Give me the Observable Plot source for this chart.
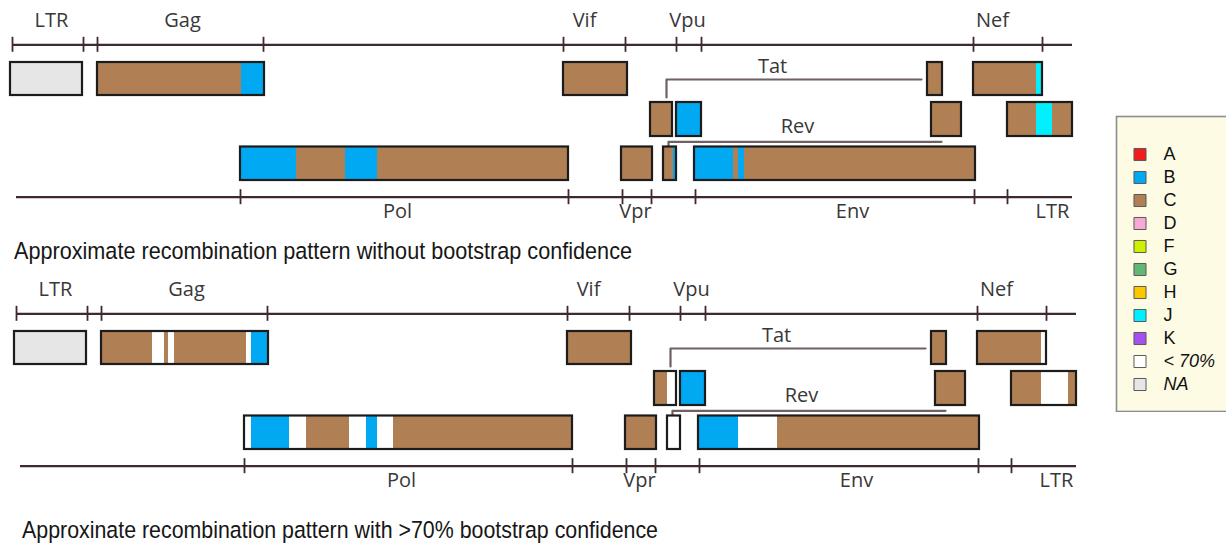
<!DOCTYPE html>
<html><head><meta charset="utf-8">
<script src="https://cdn.jsdelivr.net/npm/d3@7"></script>
<script src="https://cdn.jsdelivr.net/npm/@observablehq/plot@0.6"></script>
<style>
html,body{margin:0;padding:0;background:#fff;overflow:hidden}
#wrap{position:relative;width:1226px;height:549px;overflow:hidden;background:#fff}
.abs{position:absolute}
.abs svg{max-width:none !important}
.cap{position:absolute;font-family:"Liberation Sans Narrow","Arial Narrow","Liberation Sans",Arial,sans-serif;font-size:24.5px;line-height:24.5px;color:#161616;white-space:nowrap;transform-origin:0 0}
</style></head><body>
<div id="wrap">
 <div id="p1" class="abs" style="left:0;top:0;width:1222px"></div>
 <div id="cap1" class="cap" style="left:14px;top:239.3px"></div>
 <div id="p2" class="abs" style="left:4px;top:269px;width:1222px"></div>
 <div id="cap2" class="cap" style="left:22px;top:518.3px"></div>
 <div id="leg" class="abs" style="left:1115px;top:115px;width:125px"></div>
</div>
<script>
// ---------- data ----------
const subtypes = ["A","B","C","D","F","G","H","J","K","< 70%","NA"];
const subtypeColors = ["#ee1c1c","#00a9f2","#b07f53","#f7a9d6","#cdf000","#62b873","#fbc800","#00f0ff","#a550ef","#ffffff","#e6e6e6"];

const geneNames = ["5' LTR","Gag","Vif","Tat exon 2","Nef","Tat exon 1","Vpu","Rev exon 2","3' LTR","Pol","Vpr","Rev exon 1","Env"];
const geneStart = [10,97,563,927,973,650,676,931,1007,240,621,663,694];
const geneEnd   = [82,264,627,942,1042,672,701,961,1072,568,652,676,975];
const geneFrame = [1,1,1,1,1,2,2,2,2,3,3,3,3];

const topRulerSpan = [12,1072];
const topRulerTicks = [12,83,97,263,563,625,676,701,973,1042];
const bottomRulerSpan = [16,1072];
const bottomRulerTicks = [240,568,622,651,695,974,1007];

const topLabels = ["LTR","Gag","Vif","Vpu","Nef"];
const topLabelPos = [51,182,584,687,992];
const bottomLabels = ["Pol","Vpr","Env","LTR"];
const bottomLabelPos = [397,635,852,1052];

const spliceNames = ["Tat","Rev"];
const spliceFrom = [666,668];
const spliceTo = [921,941];
const spliceLabelPos = [772,797];

// [gene, start, end, subtype]
const segmentsNoBootstrap = [
  ["5' LTR",10,82,"NA"],
  ["Gag",97,241,"C"],["Gag",241,264,"B"],
  ["Vif",563,627,"C"],
  ["Tat exon 2",927,942,"C"],
  ["Nef",973,1036,"C"],["Nef",1036,1042,"J"],
  ["Tat exon 1",650,672,"C"],
  ["Vpu",676,701,"B"],
  ["Rev exon 2",931,961,"C"],
  ["3' LTR",1007,1036,"C"],["3' LTR",1036,1052,"J"],["3' LTR",1052,1072,"C"],
  ["Pol",240,296,"B"],["Pol",296,345,"C"],["Pol",345,377,"B"],["Pol",377,568,"C"],
  ["Vpr",621,652,"C"],
  ["Rev exon 1",663,673,"C"],["Rev exon 1",673,676,"B"],
  ["Env",694,733,"B"],["Env",733,738,"C"],["Env",738,744,"B"],["Env",744,975,"C"]
];
const segmentsBootstrap70 = [
  ["5' LTR",10,82,"NA"],
  ["Gag",97,148,"C"],["Gag",148,160,"< 70%"],["Gag",160,164,"C"],["Gag",164,170,"< 70%"],["Gag",170,242,"C"],["Gag",242,247,"< 70%"],["Gag",247,264,"B"],
  ["Vif",563,627,"C"],
  ["Tat exon 2",927,942,"C"],
  ["Nef",973,1037,"C"],["Nef",1037,1042,"< 70%"],
  ["Tat exon 1",650,663,"C"],["Tat exon 1",663,672,"< 70%"],
  ["Vpu",676,701,"B"],
  ["Rev exon 2",931,961,"C"],
  ["3' LTR",1007,1037,"C"],["3' LTR",1037,1064,"< 70%"],["3' LTR",1064,1072,"C"],
  ["Pol",240,247,"< 70%"],["Pol",247,285,"B"],["Pol",285,302,"< 70%"],["Pol",302,345,"C"],["Pol",345,362,"< 70%"],["Pol",362,373,"B"],["Pol",373,389,"< 70%"],["Pol",389,568,"C"],
  ["Vpr",621,652,"C"],
  ["Rev exon 1",663,676,"< 70%"],
  ["Env",694,734,"B"],["Env",734,773,"< 70%"],["Env",773,975,"C"]
];
const captions = [
  "Approximate recombination pattern without bootstrap confidence",
  "Approxinate recombination pattern with >70% bootstrap confidence"
];

// ---------- layout / style (not data) ----------
const L = {w:1222, h:232, labelTop:20.5, rulerTop:44.3, rows:{1:[62,95],2:[102,136],3:[146.5,180]},
  rulerBottom:196.7, labelBottom:211.5, tick:7.5, spliceY:{Tat:79,Rev:141.3}, spliceLabelY:{Tat:66.5,Rev:126.5},
  spliceBottom:{Tat:97,Rev:146.5}};
const ruleColor = "#3d2a2c", spliceColor = "#6f6062", boxStroke = "#1c1c1c";
const labelFont = "'Open Sans','Noto Sans',sans-serif";
const labelSize = 20;
const captionWidths = [618, 636];

const genes = geneNames.map((name,i)=>({name, start:geneStart[i], end:geneEnd[i], frame:geneFrame[i]}));
const frameOf = Object.fromEntries(genes.map(g=>[g.name,g.frame]));

function panel(segments){
  const segs = segments.map(([gene,start,end,type])=>({gene,start,end,type,frame:frameOf[gene]}));
  const splicePts = spliceNames.flatMap((n,i)=>[
    {n, x:spliceFrom[i], y:L.spliceBottom[n]},
    {n, x:spliceFrom[i], y:L.spliceY[n]},
    {n, x:spliceTo[i], y:L.spliceY[n]}]);
  const txt = {fontSize:labelSize, fontFamily:labelFont, fill:"#383838"};
  return Plot.plot({
    width:L.w, height:L.h, margin:0,
    x:{domain:[0,L.w], range:[0,L.w], axis:null},
    y:{domain:[0,L.h], range:[0,L.h], axis:null},
    color:{domain:subtypes, range:subtypeColors},
    style:{background:"transparent", overflow:"visible"},
    marks:[
      Plot.ruleY([L.rulerTop], {x1:topRulerSpan[0], x2:topRulerSpan[1], stroke:ruleColor, strokeWidth:2.3}),
      Plot.ruleX(topRulerTicks, {x:d=>d, y1:L.rulerTop-L.tick, y2:L.rulerTop+L.tick, stroke:ruleColor, strokeWidth:1.8}),
      Plot.ruleY([L.rulerBottom], {x1:bottomRulerSpan[0], x2:bottomRulerSpan[1], stroke:ruleColor, strokeWidth:2.3}),
      Plot.ruleX(bottomRulerTicks, {x:d=>d, y1:L.rulerBottom-L.tick, y2:L.rulerBottom+L.tick, stroke:ruleColor, strokeWidth:1.8}),
      Plot.text(topLabels, {x:(d,i)=>topLabelPos[i], y:L.labelTop, text:d=>d, ...txt}),
      Plot.text(bottomLabels, {x:(d,i)=>bottomLabelPos[i], y:L.labelBottom, text:d=>d, ...txt}),
      Plot.line(splicePts, {x:"x", y:"y", z:"n", stroke:spliceColor, strokeWidth:2.2, curve:"linear"}),
      Plot.text(spliceNames, {x:(d,i)=>spliceLabelPos[i], y:d=>L.spliceLabelY[d], text:d=>d, ...txt}),
      Plot.rect(segs, {x1:"start", x2:"end", y1:d=>L.rows[d.frame][0], y2:d=>L.rows[d.frame][1], fill:"type"}),
      Plot.rect(genes, {x1:"start", x2:"end", y1:d=>L.rows[d.frame][0], y2:d=>L.rows[d.frame][1], fill:"none", stroke:boxStroke, strokeWidth:2.2})
    ]
  });
}

document.getElementById("p1").appendChild(panel(segmentsNoBootstrap));
document.getElementById("p2").appendChild(panel(segmentsBootstrap70));
["cap1","cap2"].forEach((id,i)=>{
  const el = document.getElementById(id);
  el.textContent = captions[i];
  const w = el.getBoundingClientRect().width;
  el.style.transform = `scaleX(${captionWidths[i]/w})`;
});

// legend
const italic = new Set(["< 70%","NA"]);
const legFont = {fontSize:18, fontFamily:"'Liberation Sans',Arial,sans-serif", fill:"#111"};
const leg = Plot.plot({
  width:125, height:297, margin:0,
  x:{domain:[0,125], range:[0,125], axis:null},
  y:{type:"point", domain:subtypes, range:[37,271], padding:0, axis:null},
  color:{domain:subtypes, range:subtypeColors},
  style:{background:"transparent"},
  marks:[
    Plot.frame({fill:"#fdfbe4", stroke:"#8c8c8c", strokeWidth:1.6, inset:1}),
    Plot.dot(subtypes, {x:24.5, y:d=>d, fill:d=>d, symbol:"square", r:6.8, stroke:"#5a5a5a", strokeWidth:1}),
    Plot.text(subtypes.filter(d=>!italic.has(d)), {x:48, y:d=>d, text:d=>d, textAnchor:"start", ...legFont}),
    Plot.text(subtypes.filter(d=>italic.has(d)), {x:48, y:d=>d, text:d=>d, textAnchor:"start", fontStyle:"italic", ...legFont})
  ]
});
document.getElementById("leg").appendChild(leg);
</script>
</body></html>
